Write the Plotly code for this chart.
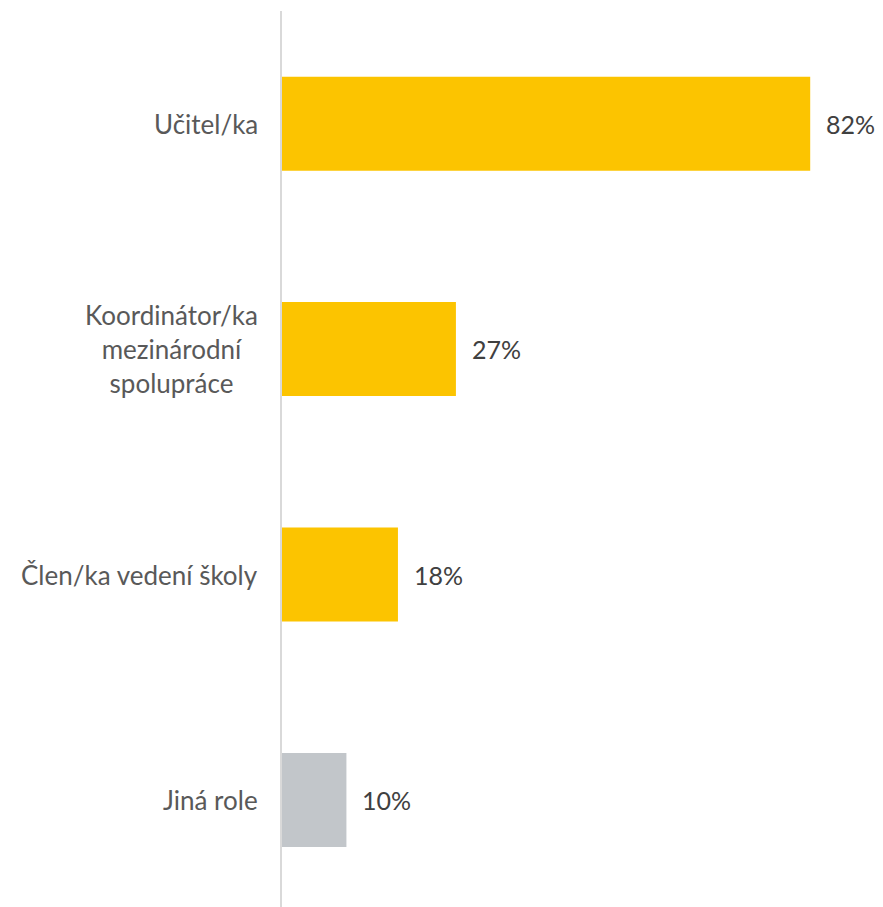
import plotly.graph_objects as go

categories = ["Učitel/ka", "Koordinátor/ka<br>mezinárodní<br>spolupráce", "Člen/ka vedení školy", "Jiná role"]
values = [82, 27, 18, 10]
labels = ["82%", "27%", "18%", "10%"]
colors = ["#FCC400", "#FCC400", "#FCC400", "#C2C6CA"]

FONT = "Lato, Open Sans, sans-serif"

fig = go.Figure(go.Bar(
    x=values, y=categories, orientation="h",
    marker=dict(color=colors, line=dict(width=0)),
    width=0.417, hoverinfo="skip",
))

for c, v, t in zip(categories, values, labels):
    fig.add_annotation(x=v, y=c, text=t, showarrow=False, xanchor="left",
                       xshift=14, font=dict(family=FONT, size=25, color="#404040"))
    fig.add_annotation(x=0, xref="paper", y=c, text=c, showarrow=False, xanchor="right",
                       align="center", xshift=-22,
                       font=dict(family=FONT, size=26, color="#595959"))

fig.update_layout(
    width=875, height=899,
    margin=dict(l=274, r=0, t=3, b=0),
    plot_bgcolor="white", paper_bgcolor="white",
    showlegend=False,
    xaxis=dict(range=[0, 93.3], visible=False, fixedrange=True),
    yaxis=dict(range=[3.475, -0.5], showticklabels=False, showgrid=False,
               showline=True, linecolor="#D9D9D9", linewidth=2, ticks="",
               zeroline=False, fixedrange=True),
)

fig.write_html("out.html")
